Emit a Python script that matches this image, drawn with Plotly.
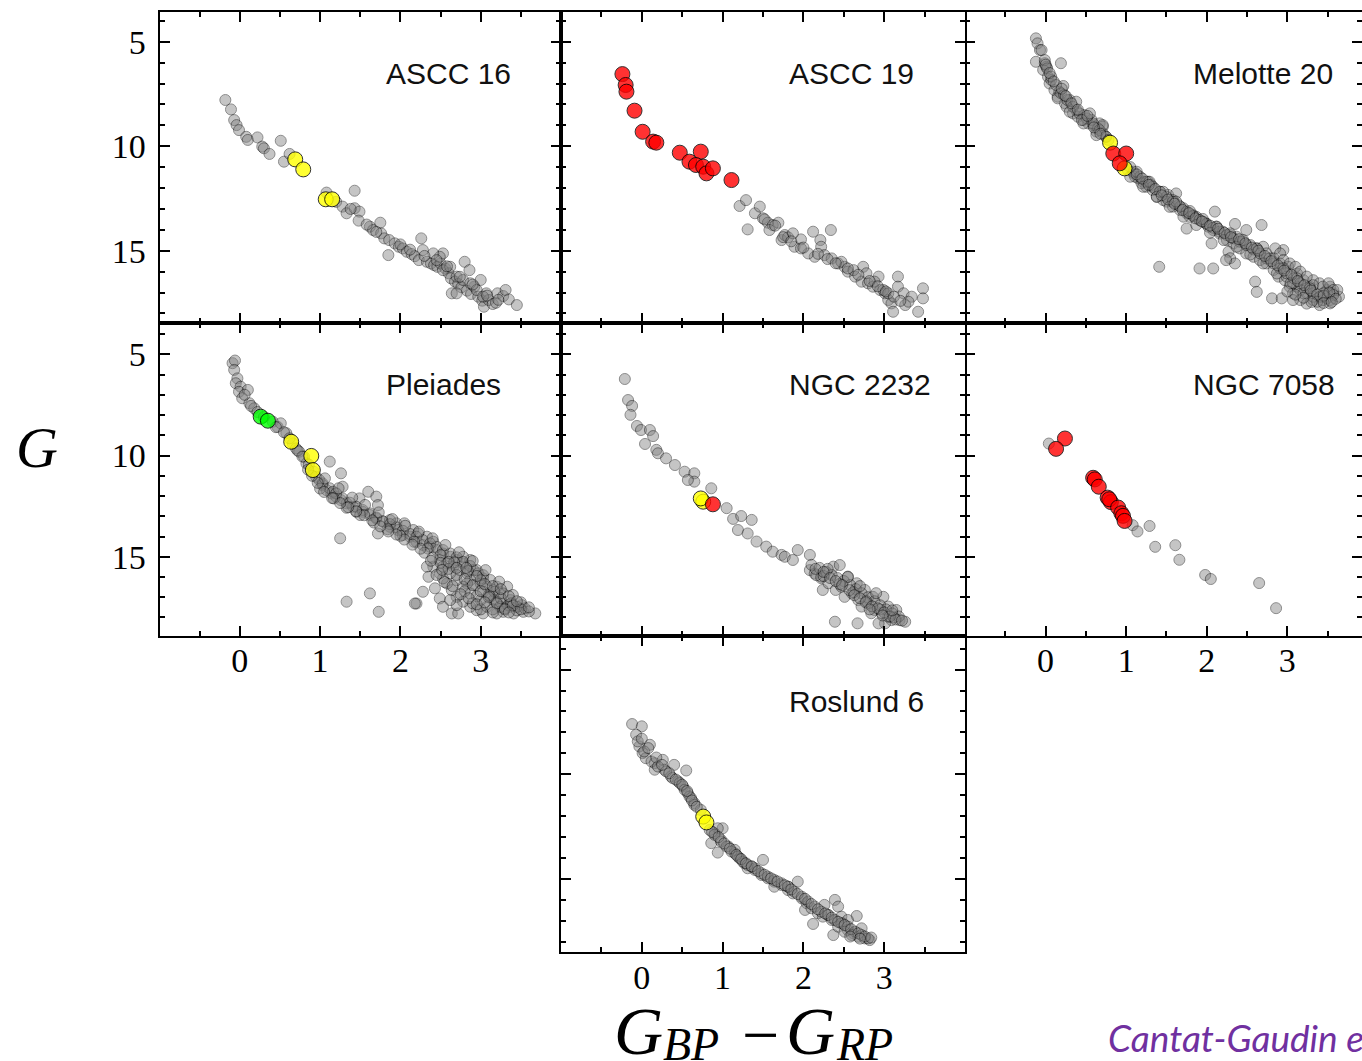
import plotly.graph_objects as go

# ---------------- data: (BP-RP colour, G magnitude) ----------------
ascc16_stars = [(-0.18,7.79),(-0.11,8.24),(-0.07,8.75),(-0.04,8.99),(-0.01,9.23),(0.08,9.55),(0.10,9.70),
    (0.22,9.58),(0.28,10.02),(0.30,10.10),(0.37,10.37),(0.51,9.74),(0.55,10.74),(0.62,10.37),(1.08,12.22),
    (1.20,12.66),(1.28,12.89),(1.33,13.21),(1.43,12.13),(1.43,12.97),(1.49,13.13),(1.48,13.56),(1.62,13.85),
    (1.66,14.01),(1.75,13.66),(1.76,14.17),(1.80,14.41),(1.86,14.49),(1.85,15.21),(1.93,14.65),(1.98,14.81),
    (2.03,14.89),(2.08,15.05),(2.14,15.16),(2.18,15.26),(2.26,14.41),(2.23,15.45),(2.33,15.53),(2.38,15.61),
    (2.42,15.69),(2.46,15.77),(2.50,15.61),(2.53,15.13),(2.56,15.85),(2.60,16.08),(2.63,16.32),(2.64,17.04),
    (2.68,16.48),(2.72,16.59),(2.76,16.75),(2.80,15.53),(2.83,16.91),(2.86,15.93),(2.88,17.07),(2.92,16.72),
    (2.97,17.20),(3.00,16.40),(3.02,17.39),(3.04,17.68),(3.07,17.04),(3.10,17.36),(3.15,17.55),(3.19,17.49),
    (3.21,17.04),(3.28,17.17),(3.31,16.88),(3.35,17.33),(3.45,17.60),(2.70,17.04),(2.49,15.29),(2.41,15.13),
    (2.28,14.97),(2.53,15.93),(2.62,15.77),(2.70,16.24),(2.78,16.40),(2.87,16.56),(2.95,16.88),(3.03,17.20),
    (2.00,14.70),(2.12,14.95),(2.30,15.25),(2.45,15.45),(2.58,15.75),(2.74,16.25),(2.90,16.62),(3.08,17.15),
    (3.22,17.35),(1.70,14.10),(1.58,13.75),(1.38,13.00)]
ascc16_yellow = [(0.69,10.63),(0.79,11.11),(1.07,12.54),(1.15,12.54)]

ascc19_stars = [(1.21,12.86),(1.29,12.58),(1.31,13.98),(1.40,13.21),(1.46,12.89),(1.50,13.45),(1.56,13.66),
    (1.62,13.77),(1.69,13.66),(1.73,14.49),(1.77,14.25),(1.81,14.36),(1.89,14.81),(1.97,14.46),(2.12,14.09),
    (2.34,14.01),(2.21,14.49),(2.22,14.81),(2.14,15.29),(2.26,15.21),(2.35,15.37),(2.43,15.61),(2.51,15.77),
    (2.55,16.00),(2.64,16.24),(2.74,15.77),(2.72,16.48),(2.80,16.56),(2.86,16.72),(2.93,16.24),(2.95,16.88),
    (3.01,17.04),(3.05,17.36),(3.09,17.52),(3.11,17.92),(3.17,16.24),(3.17,16.72),(3.24,17.04),(3.26,17.60),
    (3.34,17.20),(3.42,17.92),(3.48,16.80),(3.48,17.28),(2.06,15.13),(1.97,14.89),(2.47,15.53),(2.62,15.93),
    (2.78,16.08),(2.88,16.48),(2.99,16.88),(3.05,17.04),(3.30,17.44),(1.87,14.17),(1.58,14.01),
    (1.75,14.35),(1.85,14.55),(2.00,14.85),(2.18,15.15),(2.30,15.40),(2.40,15.60),(2.55,15.85),(2.68,16.15),
    (2.82,16.45),(2.92,16.70),(3.02,16.95),(3.12,17.20),(3.20,17.40),(1.52,13.50),(1.65,13.80)]
ascc19_red = [(-0.24,6.55),(-0.20,7.07),(-0.19,7.39),(-0.09,8.30),(0.01,9.31),(0.14,9.78),(0.18,9.83),
    (0.47,10.31),(0.73,10.26),(0.59,10.74),(0.67,10.90),(0.76,10.98),(0.80,11.30),(0.88,11.06),(1.11,11.62)]

melotte20_stars = [(-0.12,4.84),(-0.10,5.08),(-0.07,5.40),(-0.12,5.96),(-0.01,6.03),(0.19,6.03),(-0.03,6.35),
    (0.03,6.68),(0.05,7.00),(0.22,7.12),(0.11,7.32),(0.15,7.63),(0.24,7.95),(0.26,8.11),(0.34,8.43),(0.40,8.59),
    (0.47,8.74),(0.53,8.91),(0.59,8.99),(0.67,8.91),(0.71,9.06),(0.63,9.30),(0.75,9.55),(1.09,11.30),(1.15,11.54),
    (1.21,11.70),(1.25,11.94),(1.33,12.10),(1.38,12.42),(1.46,12.58),(1.52,12.33),(1.62,12.26),(1.58,12.89),
    (1.67,13.06),(1.75,13.21),(1.83,13.30),(1.75,13.94),(1.91,13.53),(1.99,13.69),(2.10,13.13),(2.08,14.01),
    (2.16,14.18),(2.06,14.65),(2.25,14.49),(2.33,14.65),(2.35,13.72),(2.27,15.05),(2.29,15.36),(2.35,15.61),
    (2.41,14.89),(2.49,14.01),(2.49,15.13),(2.58,15.29),(2.68,13.77),(2.66,15.45),(2.60,16.48),(2.62,16.97),
    (2.74,15.61),(2.81,17.28),(2.93,17.28),(2.83,15.92),(2.89,16.24),(2.95,14.97),(2.97,16.41),(3.03,16.72),
    (3.07,17.04),(3.12,16.72),(3.16,17.36),(3.24,17.53),(3.32,17.36),(3.40,17.20),(3.49,16.88),(3.53,16.72),
    (3.57,17.04),(3.64,17.20),(3.53,17.36),(3.28,16.72),(3.20,16.41),(3.12,16.09),(3.01,15.77),(2.91,15.61),
    (2.83,15.36),(3.32,16.41),(3.40,16.56),(3.07,17.36),(3.40,17.60),(1.41,15.77),(1.91,15.85),(2.08,15.85),
    (2.24,15.45),(0.01,6.20),(0.07,6.83),(0.17,7.39),(0.30,7.79),(0.38,8.27),(0.48,8.51),(0.57,8.74),(0.65,9.15),
    (0.71,9.39),(1.02,11.14),(1.11,11.46),(1.19,11.77),(1.27,11.70),(1.31,11.86),(1.42,12.18),(1.50,12.65),
    (1.58,12.58),(1.65,12.82),(1.71,12.97),(1.79,13.38),(1.87,13.38),(1.96,13.62),(2.02,13.85),(2.12,13.85),
    (2.20,14.09),(2.29,14.25),(2.37,14.33),(2.45,14.57),(2.54,14.73),(2.62,14.89),(2.70,14.81),(2.74,15.13),
    (2.85,14.89),(2.91,15.13),(2.95,15.45),(3.03,15.61),(3.10,15.77),(3.16,16.00),(3.24,16.24),(3.32,16.65),
    (3.44,16.72),(3.51,16.56),(3.57,16.88),(3.24,17.04),(3.16,16.88),(3.07,16.56),(2.99,16.24),(3.32,17.20),
    (3.44,17.36),(3.62,16.88),
    (-0.05,5.40),(-0.01,5.88),(0.02,6.28),(0.07,6.67),(0.13,7.07),(0.19,7.47),(0.27,7.79),(0.34,8.11),
    (0.42,8.43),(0.51,8.67),(0.59,8.91),(0.67,9.23),(0.75,9.55),(1.09,11.22),(1.17,11.46),(1.25,11.70),
    (1.33,11.94),(1.42,12.18),(1.50,12.42),(1.58,12.66),(1.67,12.89),(1.75,13.13),(1.83,13.34),(1.91,13.53),
    (2.00,13.72),(2.08,13.90),(2.16,14.09),(2.25,14.25),(2.33,14.41),(2.41,14.57),(2.49,14.73),(2.58,14.94),
    (2.66,15.13),(2.74,15.37),(2.83,15.61),(2.91,15.85),(2.99,16.08),(3.08,16.32),(3.16,16.56),(3.24,16.80),
    (3.32,17.04),(3.41,17.20),(3.49,17.28),(3.57,17.12),
    (0.15,7.71),(0.30,8.35),(0.47,8.91),(0.63,9.47),(1.05,11.46),(1.21,11.94),(1.38,12.42),(1.54,12.90),
    (1.71,13.37),(1.87,13.77),(2.04,14.14),(2.21,14.49),(2.37,14.81),(2.54,15.18),(2.70,15.61),(2.87,16.09),
    (3.04,16.56),(3.20,17.04),(3.37,17.44),(3.53,17.52),
    (0.23,7.55),(0.38,7.87),(0.55,8.43),(0.71,8.99),(1.13,11.22),(1.29,11.70),(1.46,12.18),(1.62,12.65),
    (1.79,13.10),(1.95,13.48),(2.12,13.85),(2.29,14.17),(2.45,14.49),(2.62,14.89),(2.78,15.37),(2.95,15.84),
    (3.12,16.32),(3.28,16.80),(3.45,17.04),
    (0.00,6.10),(0.05,6.50),(0.10,6.90),(0.20,7.25),(0.25,7.60),(0.32,7.95),(0.40,8.25),(0.45,8.75),
    (0.52,8.55),(0.60,9.10),(0.68,9.40),(0.78,9.70),(1.05,11.00),(1.13,11.35),(1.20,11.55),(1.28,11.85),
    (1.36,12.05),(1.44,12.35),(1.52,12.55),(1.60,12.75),(1.70,13.05),(1.78,13.20),(1.86,13.45),(1.94,13.60),
    (2.04,13.80),(2.14,13.95),(2.22,14.15),(2.30,14.35),(2.40,14.45),(2.48,14.65),(2.56,14.85),(2.64,15.00),
    (2.72,15.25),(2.80,15.50),(2.88,15.70),(2.96,15.95),(3.05,16.15),(3.13,16.45),(3.21,16.65),(3.29,16.90),
    (3.37,17.10),(3.45,17.15),(3.52,17.00),(3.60,17.30),(3.30,17.45),(3.20,17.25),(3.10,17.10),(3.00,16.95),
    (3.45,17.50),(3.55,17.45)]
melotte20_yellow = [(0.80,9.83),(0.98,11.06)]
melotte20_red = [(0.84,10.35),(1.00,10.35),(0.92,10.82)]

pleiades_stars = [(-0.09,5.44),(-0.06,5.31),(-0.07,5.77),(-0.03,6.19),(-0.05,6.43),(0.01,6.60),(-0.01,6.85),
    (0.10,6.76),(0.03,7.17),(0.12,7.42),(0.18,7.67),(0.41,8.33),(0.47,8.58),(0.51,8.41),(0.58,8.90),(0.66,9.40),
    (0.70,9.65),(0.74,9.81),(0.80,10.06),(0.83,10.39),(1.12,10.30),(1.26,10.88),(0.95,11.05),(0.99,11.21),
    (1.03,11.46),(1.08,11.71),(1.14,11.87),(1.20,12.03),(1.28,11.54),(1.26,12.20),(1.33,12.36),(1.41,12.53),
    (1.49,12.12),(1.60,11.79),(1.70,12.03),(1.72,12.45),(1.53,12.78),(1.62,12.94),(1.70,13.11),(1.78,13.27),
    (1.72,13.85),(1.87,13.52),(1.95,13.35),(2.05,13.35),(1.97,13.68),(2.03,13.93),(2.12,14.01),(2.20,14.26),
    (2.28,14.42),(2.37,14.51),(2.33,14.01),(2.41,14.26),(2.45,14.67),(2.53,14.84),(2.62,15.00),(2.49,15.16),
    (2.58,15.33),(2.66,15.49),(2.70,15.16),(2.78,15.33),(2.87,15.16),(2.74,15.66),(2.83,15.82),(2.91,15.66),
    (2.97,15.82),(3.03,16.07),(2.87,16.15),(2.93,16.40),(3.00,16.32),(3.08,16.48),(3.16,16.65),(3.24,16.81),
    (3.33,16.48),(3.03,16.73),(3.12,16.98),(3.20,17.22),(3.28,17.31),(3.37,17.47),(3.45,17.47),(3.51,17.39),
    (3.53,17.72),(3.68,17.80),(3.28,17.72),(3.20,17.80),(3.03,17.80),(2.95,17.64),(2.87,17.47),(2.78,17.22),
    (2.70,16.98),(2.64,16.65),(2.58,16.32),(2.53,16.07),(2.49,15.82),(2.41,15.49),(2.33,15.49),(2.35,15.99),
    (2.28,16.73),(2.20,17.31),(2.43,16.56),(2.49,17.06),(2.53,17.47),(2.64,17.80),(2.72,17.80),(2.70,17.39),
    (2.62,17.14),(1.25,14.09),(1.33,17.22),(1.62,16.81),(1.73,17.72),(2.18,17.31),(2.83,16.32),(3.16,17.14),
    (3.24,17.47),(3.41,17.80),(3.08,17.47),(3.00,17.14),(2.87,16.81),(2.78,16.48),(2.70,16.15),(2.62,15.82),
    (2.53,15.49),(2.78,15.00),(1.45,12.78),(1.12,11.62),(1.16,11.79),(1.87,13.19),(2.16,13.68),(2.22,13.85),
    (1.03,11.38),(1.20,11.87),(1.28,12.12),(1.37,12.33),(1.45,12.53),(1.53,12.69),(1.62,12.86),(1.70,13.06),
    (1.78,13.24),(1.87,13.39),(1.95,13.55),(2.03,13.72),(2.12,13.88),(2.20,14.01),(2.28,14.18),(2.37,14.34),
    (2.45,14.51),(2.53,14.67),(2.62,14.84),(2.70,15.03),(2.78,15.25),(2.87,15.46),(2.95,15.66),(3.03,15.91),
    (3.12,16.15),(3.20,16.48),(3.28,16.81),(3.37,17.14),(3.45,17.47),
    (1.00,11.63),(1.17,12.12),(1.33,12.58),(1.50,12.94),(1.67,13.31),(1.84,13.64),(2.00,13.97),(2.17,14.26),
    (2.34,14.59),(2.50,14.92),(2.67,15.28),(2.84,15.71),(3.00,16.16),(3.17,16.73),(3.34,17.39),
    (1.06,11.13),(1.23,11.62),(1.40,12.08),(1.56,12.44),(1.73,12.81),(1.90,13.14),(2.06,13.47),(2.23,13.76),
    (2.40,14.09),(2.56,14.42),(2.73,14.78),(2.90,15.21),(3.06,15.66),(3.23,16.23),(3.40,16.89),
    (3.30,17.55),(3.45,17.65),(3.55,17.55),(3.38,17.30),(3.15,17.60),(3.60,17.70),(3.50,17.25),(3.25,17.05),
    (3.10,16.90),(2.95,16.95),(2.80,16.70),(2.90,17.30),(3.00,17.60),
    (0.06,7.00),(0.14,7.55),(0.22,7.85),(0.30,8.10),(0.45,8.60),(0.55,8.85),(0.62,9.15),(0.72,9.75),
    (0.78,10.05),(0.86,10.45),(0.92,10.80),
    (2.30,14.80),(2.40,15.05),(2.50,15.30),(2.60,15.60),(2.70,15.90),(2.80,16.10),(2.90,16.40),(3.00,16.70),
    (3.10,17.00),(3.20,17.30),(3.30,17.60),(3.40,17.40),(3.50,17.60),(3.60,17.50),(3.35,17.75),(3.15,17.75),
    (2.45,15.90),(2.55,16.25),(2.65,16.45),(2.75,16.85),(2.85,17.05),(2.95,17.35),(3.05,17.25),(2.60,15.25),
    (2.70,15.55),(2.82,15.55),(2.95,15.95),(3.05,16.35),(3.15,16.45),(3.25,16.60),(3.35,16.95),(3.45,17.20),
    (2.38,15.20),(2.52,15.65),(2.25,14.60),(2.15,14.40),(2.05,14.15),(1.95,13.90),(1.85,13.75),(1.75,13.50),
    (1.65,13.20),(1.55,12.95),(1.45,12.75),(1.35,12.55),(1.25,12.35),(1.15,12.10),(1.05,11.80),(0.97,11.35),
    (0.90,11.00),(0.85,10.70)]
pleiades_yellow = [(0.64,9.32),(0.89,10.02),(0.91,10.72)]
pleiades_green = [(0.26,8.08),(0.35,8.28)]

ngc2232_stars = [(-0.21,6.22),(-0.17,7.26),(-0.12,7.55),(-0.14,7.99),(-0.06,8.54),(-0.01,8.74),(0.10,8.74),
    (0.14,9.04),(0.04,9.43),(0.18,9.72),(0.20,9.89),(0.30,10.14),(0.41,10.47),(0.53,10.80),(0.65,10.88),
    (0.65,11.29),(0.86,11.62),(0.57,11.21),(1.05,12.60),(1.13,13.13),(1.23,12.99),(1.36,13.18),(1.19,13.68),
    (1.31,13.85),(1.42,14.25),(1.54,14.50),(1.62,14.75),(1.73,14.91),(1.77,15.00),(1.87,15.16),(1.93,14.67),
    (2.08,14.91),(2.08,15.66),(2.14,15.83),(2.22,16.06),(2.24,16.64),(2.37,15.49),(2.45,15.41),(2.31,16.31),
    (2.40,16.64),(2.47,16.48),(2.55,15.98),(2.60,16.81),(2.66,16.31),(2.68,17.14),(2.76,16.64),(2.80,17.31),
    (2.86,16.98),(2.88,17.63),(2.99,16.98),(2.97,17.79),(3.05,17.46),(3.09,18.13),(3.15,17.63),(3.19,18.13),
    (3.26,18.21),(3.01,18.29),(2.39,18.21),(2.67,18.29),(2.22,15.98),(2.51,16.98),(2.72,17.46),(2.84,17.79),
    (3.05,17.96),(2.93,18.29),(2.16,15.91),
    (2.10,15.40),(2.20,15.55),(2.28,15.75),(2.35,15.90),(2.42,16.05),(2.50,16.20),(2.58,16.40),(2.65,16.60),
    (2.72,16.80),(2.80,17.00),(2.88,17.20),(2.95,17.40),(3.02,17.60),(3.10,17.80),(3.18,17.95),(2.25,15.95),
    (2.45,16.35),(2.62,16.75),(2.78,17.20),(2.95,17.60),(3.12,18.00),(2.30,15.60),(2.55,16.00),(2.70,16.45),
    (2.90,16.80),
    (2.15,15.60),(2.25,15.75),(2.33,16.05),(2.40,16.20),(2.48,16.40),(2.57,16.65),(2.63,16.90),(2.70,17.05),
    (2.77,17.25),(2.85,17.45),(2.92,17.55),(3.00,17.75),(3.07,17.95),(3.14,18.10),(3.22,18.15),(2.82,17.60),
    (2.98,17.90),(3.10,17.65)]
ngc2232_yellow = [(0.76,12.28),(0.73,12.12)]
ngc2232_red = [(0.88,12.41)]

ngc7058_stars = [(0.04,9.41),(1.08,13.44),(1.14,13.75),(1.29,13.48),(1.36,14.51),(1.61,14.43),(1.66,15.15),
    (1.98,15.90),(2.05,16.10),(2.65,16.30),(2.86,17.54)]
ngc7058_red = [(0.24,9.16),(0.13,9.67),(0.59,11.10),(0.61,11.18),(0.66,11.54),(0.77,12.08),(0.81,12.30),
    (0.79,12.16),(0.90,12.57),(0.94,12.85),(0.96,12.98),(0.98,13.23)]

roslund6_stars = [(-0.12,7.60),(0.00,7.71),(-0.07,8.11),(0.10,8.59),(-0.03,8.67),(0.01,8.99),(0.05,9.23),
    (0.16,9.47),(0.26,9.31),(0.28,9.78),(0.40,9.55),(0.55,9.82),(0.36,10.10),(0.45,10.34),(0.51,10.58),
    (0.57,10.90),(0.61,11.14),(0.65,11.38),(1.00,12.58),(0.90,12.82),(0.86,13.29),(0.94,13.74),(0.98,13.13),
    (1.07,13.45),(1.15,13.77),(1.21,14.01),(1.27,14.25),(1.31,14.49),(1.40,14.57),(1.50,14.09),(1.48,14.81),
    (1.56,14.97),(1.64,15.13),(1.73,15.29),(1.81,15.53),(1.93,15.13),(1.87,15.69),(1.98,15.93),(2.04,16.16),
    (2.02,16.48),(2.10,16.40),(2.18,16.64),(2.26,16.24),(2.39,16.00),(2.43,16.32),(2.24,16.80),(2.35,16.96),
    (2.12,17.15),(2.37,17.68),(2.43,17.28),(2.49,17.12),(2.55,17.44),(2.66,16.77),(2.62,17.60),(2.68,17.76),
    (2.72,17.36),(2.76,17.84),(2.82,17.92),(2.47,16.80),(2.55,16.96),(2.30,16.72),(1.81,15.37),(1.64,15.37),
    (1.36,14.41),(1.15,13.61),(0.73,11.70),(0.94,12.58),(0.16,9.78),
    (-0.05,8.43),(0.03,8.91),(0.12,9.39),(0.20,9.63),(0.30,9.86),(0.38,10.18),(0.47,10.42),(0.53,10.74),
    (0.59,11.06),(0.65,11.46),(0.84,12.66),(0.90,12.89),(0.98,13.21),(1.05,13.45),(1.11,13.69),(1.19,13.93),
    (1.25,14.17),(1.31,14.33),(1.40,14.49),(1.48,14.73),(1.56,14.89),(1.64,15.05),(1.73,15.21),(1.81,15.37),
    (1.89,15.61),(1.98,15.85),(2.06,16.08),(2.14,16.32),(2.22,16.56),(2.31,16.72),(2.39,16.96),(2.47,17.12),
    (2.55,17.28),(2.64,17.52),(2.72,17.68),(2.80,17.84),(2.51,17.52),(2.60,17.68),
    (0.00,8.30),(0.08,8.75),(0.18,9.20),(0.25,9.55),(0.34,9.95),(0.42,10.25),(0.50,10.50),(0.56,10.80),
    (0.62,11.25),(0.68,11.55),(0.87,12.75),(0.95,13.00),(1.02,13.30),(1.09,13.55),(1.17,13.85),(1.23,14.05),
    (1.29,14.25),(1.36,14.40),(1.44,14.62),(1.52,14.80),(1.60,14.97),(1.68,15.12),(1.77,15.30),(1.85,15.50),
    (1.93,15.72),(2.02,15.95),(2.10,16.20),(2.18,16.45),(2.27,16.65),(2.35,16.85),(2.43,17.05),(2.51,17.20),
    (2.59,17.40),(2.68,17.60),(2.76,17.75),(2.84,17.80),(2.70,17.85),(2.58,17.75)]
roslund6_yellow = [(0.76,12.02),(0.80,12.30)]

cluster_names = ["ASCC 16", "ASCC 19", "Melotte 20", "Pleiades", "NGC 2232", "NGC 7058", "Roslund 6"]
x_tick_values = [0, 1, 2, 3]
y_tick_values = [5, 10, 15]

# ---------------- layout geometry (pixels) ----------------
W, H = 1362, 1061
cols_px = [(159.5, 561), (561, 965), (965, 1362)]
rows_px = [(11.5, 322.5), (322.5, 635.5), (635.5, 952)]
x_ranges = [[-1, 4], [-1, 4], [-1, 3.926]]
y_ranges = [[18.435, 3.555], [18.89, 3.43], [18.49, 3.37]]

panels = [
    dict(stars=ascc16_stars, groups=[("yellow", ascc16_yellow)], r=0, c=0, xl=False, yl=True),
    dict(stars=ascc19_stars, groups=[("red", ascc19_red)], r=0, c=1, xl=False, yl=False),
    dict(stars=melotte20_stars, groups=[("yellow", melotte20_yellow), ("red", melotte20_red)], r=0, c=2, xl=False, yl=False),
    dict(stars=pleiades_stars, groups=[("yellow", pleiades_yellow), ("green", pleiades_green)], r=1, c=0, xl=True, yl=True),
    dict(stars=ngc2232_stars, groups=[("yellow", ngc2232_yellow), ("red", ngc2232_red)], r=1, c=1, xl=False, yl=False),
    dict(stars=ngc7058_stars, groups=[("red", ngc7058_red)], r=1, c=2, xl=True, yl=False),
    dict(stars=roslund6_stars, groups=[("yellow", roslund6_yellow)], r=2, c=1, xl=True, yl=False),
]
fill = {"yellow": "#ffff00", "red": "#ff0000", "green": "#00ff00"}

fig = go.Figure()
layout = dict(width=W, height=H, margin=dict(l=0, r=0, t=0, b=0), paper_bgcolor="white",
              plot_bgcolor="white", showlegend=False)
annotations = []
serif = "Liberation Serif, Times New Roman, serif"
tickfont = dict(family=serif, size=34, color="black")

for i, p in enumerate(panels):
    k = "" if i == 0 else str(i + 1)
    xa, ya = "x" + k, "y" + k
    x0, x1 = cols_px[p["c"]]
    y0, y1 = rows_px[p["r"]]
    layout["xaxis" + k] = dict(
        domain=[x0 / W, x1 / W], range=x_ranges[p["c"]], anchor=ya,
        showgrid=False, zeroline=False, showline=True, linecolor="black", linewidth=2,
        mirror="ticks", ticks="inside", ticklen=10, tickwidth=1.5, tickcolor="black",
        tickmode="array", tickvals=x_tick_values, ticktext=[str(v) for v in x_tick_values],
        minor=dict(ticks="inside", ticklen=5, tickwidth=1.5, tickcolor="black",
                   tickmode="array", tickvals=[-0.5, 0.5, 1.5, 2.5, 3.5]),
        showticklabels=p["xl"], tickfont=tickfont, ticklabelstandoff=-6)
    # the right-hand column runs past the picture edge, so its own vertical frame lines are not drawn
    layout["yaxis" + k] = dict(
        domain=[1 - y1 / H, 1 - y0 / H], range=y_ranges[p["r"]], anchor=xa,
        showgrid=False, zeroline=False, showline=(p["c"] != 2), linecolor="black", linewidth=2,
        mirror="ticks", ticks="inside", ticklen=10, tickwidth=1.5, tickcolor="black",
        tickmode="array", tickvals=y_tick_values, ticktext=[str(v) for v in y_tick_values],
        minor=dict(ticks="inside", ticklen=5, tickwidth=1.5, tickcolor="black",
                   tickmode="array", tickvals=[4, 6, 7, 8, 9, 11, 12, 13, 14, 16, 17, 18]),
        showticklabels=p["yl"], tickfont=tickfont, ticklabelstandoff=5)

    fig.add_trace(go.Scatter(
        x=[s[0] for s in p["stars"]], y=[s[1] for s in p["stars"]], mode="markers",
        xaxis=xa, yaxis=ya, hoverinfo="skip",
        marker=dict(size=11, color="#808080", opacity=0.45, line=dict(color="black", width=1))))
    for colour, pts in p["groups"]:
        fig.add_trace(go.Scatter(
            x=[s[0] for s in pts], y=[s[1] for s in pts], mode="markers",
            xaxis=xa, yaxis=ya, hoverinfo="skip",
            marker=dict(size=15, color=fill[colour], opacity=0.8, line=dict(color="black", width=1))))
    annotations.append(dict(text=cluster_names[i], x=1.8, y=6.5, xref=xa, yref=ya,
                            xanchor="left", yanchor="middle", showarrow=False,
                            font=dict(family="Liberation Sans, Arial, sans-serif", size=30, color="#111111")))


def paper_text(text, px, py, size, xanchor="left", family=serif, color="black"):
    return dict(text=text, x=px / W, y=1 - py / H, xref="paper", yref="paper",
                xanchor=xanchor, yanchor="middle", showarrow=False,
                font=dict(family=family, size=size, color=color))


annotations.append(paper_text("<i>G</i>", 37, 447, 58, xanchor="center"))
# x-axis title  G_BP - G_RP  built from pieces so the subscripts sit like the original
annotations.append(paper_text("<i>G</i>", 612, 1031, 68))
annotations.append(paper_text("<i>BP</i>", 661, 1044, 46))
annotations.append(paper_text("\u2212", 760, 1034, 66, xanchor="center"))
annotations.append(paper_text("<i>G</i>", 784, 1031, 68))
annotations.append(paper_text("<i>RP</i>", 834, 1044, 46))
annotations.append(paper_text("<i>Cantat-Gaudin et al. (2018)</i>", 1106, 1037, 37,
                              family="Lato, Open Sans, sans-serif", color="#7030A0"))
layout["annotations"] = annotations
fig.update_layout(**layout)
fig.write_html("out.html")
